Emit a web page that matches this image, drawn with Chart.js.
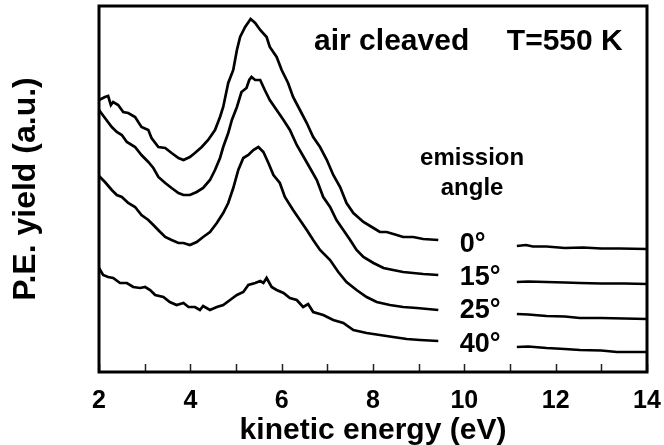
<!DOCTYPE html>
<html>
<head>
<meta charset="utf-8">
<script src="https://cdn.jsdelivr.net/npm/chart.js@4.4.1/dist/chart.umd.min.js"></script>
<style>
  html, body { margin: 0; padding: 0; background: #fff; }
  #wrap { width: 664px; height: 445px; }
</style>
</head>
<body>
<div id="wrap"><canvas id="c" width="664" height="445"></canvas></div>
<script>
// Photoemission yield spectra, air cleaved sample at T = 550 K.
// Each curve: kinetic energy (eV) and yield (arbitrary units, offset per angle).
// null marks the break where the angle labels sit.
const angleLabels = ['0°', '15°', '25°', '40°'];

const energy0 = [2.00,2.13,2.20,2.26,2.31,2.42,2.53,2.64,2.79,2.93,3.08,3.15,3.30,3.45,3.59,3.74,3.85,3.99,4.10,4.25,4.39,4.54,4.65,4.72,4.83,4.94,5.02,5.09,5.20,5.32,5.42,5.53,5.67,5.74,5.89,6.00,6.14,6.25,6.40,6.55,6.69,6.84,6.99,7.13,7.28,7.42,7.57,7.79,8.01,8.15,8.30,8.52,8.66,8.88,9.10,9.43,10.30,11.15,11.35,11.50,11.80,12.20,12.60,13.00,13.40,14.00];
const yield0  = [272,275,276,267,270,267,260,259,255,245,242,234,225,224,219,214,212,215,219,225,232,242,255,265,289,302,322,335,345,353,349,342,335,325,315,302,289,275,262,249,235,225,212,197,185,169,159,150,144,140,140,137,135,135,133,132,null,126,127,125.5,125.5,124,124.5,123.5,123.5,123];

const energy15 = [2.00,2.13,2.28,2.39,2.50,2.61,2.79,2.93,3.08,3.19,3.30,3.45,3.59,3.74,3.85,3.99,4.14,4.28,4.43,4.54,4.65,4.72,4.83,4.91,5.02,5.12,5.23,5.29,5.34,5.42,5.53,5.63,5.74,5.89,6.04,6.18,6.33,6.47,6.62,6.77,6.91,7.06,7.20,7.35,7.50,7.64,7.79,8.01,8.23,8.44,8.66,8.88,9.10,9.43,10.30,11.15,11.40,11.80,12.20,12.53,13.00,13.50,14.00];
const yield15  = [262,254,245,240,237,230,225,217,210,204,195,189,184,179,177,177,180,184,192,202,214,225,239,252,265,280,284,292,295,292,292,282,272,262,252,242,227,216,204,192,175,165,152,142,132,122,115,109,104,102,100,99,98,97,null,90,90.5,90,89.5,89,88.5,88.5,88];

const energy25 = [2.00,2.13,2.28,2.39,2.50,2.64,2.79,2.93,3.08,3.19,3.34,3.45,3.59,3.74,3.85,3.99,4.14,4.28,4.43,4.58,4.72,4.83,4.94,5.05,5.16,5.27,5.38,5.49,5.60,5.71,5.82,5.96,6.07,6.25,6.40,6.55,6.69,6.84,7.06,7.24,7.42,7.64,7.86,8.08,8.37,8.66,8.96,9.43,10.30,11.15,11.40,11.80,12.20,12.53,13.00,13.50,14.00];
const yield25  = [196,190,182,177,175,169,165,157,152,147,140,135,132,129,129,127,130,135,140,149,159,169,184,202,214,217,222,225,220,209,197,189,175,162,152,142,132,122,112,100,90,82,75,70,67,65,64,62,null,58,57.5,56,55.5,54,54,53.5,53];

const energy40 = [2.00,2.09,2.20,2.31,2.46,2.61,2.75,2.90,3.01,3.12,3.23,3.41,3.55,3.70,3.85,3.96,4.10,4.21,4.28,4.43,4.58,4.72,4.87,5.02,5.16,5.27,5.42,5.53,5.60,5.67,5.78,5.89,6.04,6.18,6.33,6.47,6.58,6.69,6.91,7.13,7.35,7.57,7.86,8.15,8.44,8.74,9.03,9.43,10.30,11.15,11.40,11.80,12.20,12.53,13.00,13.34,14.00];
const yield40  = [104,97,95,94,89,89,85,84,85,82,77,75,70,67,69,65,65,62,66,62,65,67,72,77,80,87,89,91,89,94,85,82,79,74,72,65,68,60,57,52,49,42,39,37,35,33,32,31,null,25,25.5,24,23,22,21.5,20,20];

const xMin = 2, xMax = 14, xStep = 1, xLabelStep = 2;

const FONT = '"Liberation Sans", Arial, Helvetica, sans-serif';

function toPoints(xs, ys) {
  return xs.map((x, i) => ({ x: x, y: ys[i] }));
}

const seriesX = [energy0, energy15, energy25, energy40];
const seriesY = [yield0, yield15, yield25, yield40];

const datasets = angleLabels.map((label, i) => ({
  label: label,
  data: toPoints(seriesX[i], seriesY[i]),
  borderColor: '#000',
  borderWidth: 2.7,
  pointRadius: 0,
  tension: 0,
  spanGaps: false,
  fill: false
}));

// Frame, inward tick marks and the in-plot annotations.
const decorations = {
  id: 'decorations',
  beforeDraw(chart) {
    const ctx = chart.ctx;
    ctx.save();
    ctx.fillStyle = '#fff';
    ctx.fillRect(0, 0, chart.width, chart.height);
    ctx.restore();
  },
  afterDraw(chart) {
    const ctx = chart.ctx;
    const a = chart.chartArea;
    const xs = chart.scales.x;
    const ys = chart.scales.y;

    ctx.save();
    // inward ticks on the bottom axis
    ctx.strokeStyle = '#222';
    ctx.lineWidth = 1.5;
    xs.ticks.forEach(t => {
      const px = Math.round(xs.getPixelForValue(t.value)) + 0.5;
      ctx.beginPath();
      ctx.moveTo(px, a.bottom);
      ctx.lineTo(px, a.bottom - 8);
      ctx.stroke();
    });

    // frame
    ctx.strokeStyle = '#000';
    ctx.lineWidth = 3;
    ctx.strokeRect(a.left, a.top, a.right - a.left, a.bottom - a.top);

    // annotations
    ctx.fillStyle = '#000';
    ctx.textBaseline = 'alphabetic';
    ctx.font = 'bold 30px ' + FONT;
    ctx.textAlign = 'left';
    ctx.fillText('air cleaved', xs.getPixelForValue(6.71), ys.getPixelForValue(322));
    ctx.fillText('T=550 K', xs.getPixelForValue(10.93), ys.getPixelForValue(322));

    ctx.font = 'bold 24px ' + FONT;
    ctx.textAlign = 'center';
    ctx.fillText('emission', xs.getPixelForValue(10.17), ys.getPixelForValue(207));
    ctx.fillText('angle', xs.getPixelForValue(10.17), ys.getPixelForValue(177));

    ctx.font = 'bold 27px ' + FONT;
    ctx.textAlign = 'left';
    const labelBase = [120, 87, 54, 20.5];
    angleLabels.forEach((lab, i) => {
      ctx.fillText(lab, xs.getPixelForValue(9.9), ys.getPixelForValue(labelBase[i]));
    });
    ctx.restore();
  }
};

new Chart(document.getElementById('c'), {
  type: 'line',
  data: { datasets: datasets },
  options: {
    responsive: false,
    animation: false,
    devicePixelRatio: 1,
    layout: { padding: { left: 0, right: 17, top: 6, bottom: 0 } },
    plugins: {
      legend: { display: false },
      tooltip: { enabled: false },
      title: { display: false }
    },
    scales: {
      x: {
        type: 'linear',
        min: xMin,
        max: xMax,
        grid: { display: false, drawTicks: false },
        border: { display: false },
        ticks: {
          stepSize: xStep,
          autoSkip: false,
          maxRotation: 0,
          padding: 14,
          color: '#000',
          font: { family: FONT, size: 25, weight: 'bold' },
          callback: v => (v % xLabelStep === 0 ? String(v) : '')
        },
        title: {
          display: true,
          text: 'kinetic energy (eV)',
          color: '#000',
          font: { family: FONT, size: 30, weight: 'bold' },
          padding: { top: 0, bottom: -4 }
        },
        afterFit: s => {
          s.height = 73;
          s.paddingLeft = 0;
          s.paddingRight = 0;
        }
      },
      y: {
        type: 'linear',
        min: 0,
        max: 366,
        grid: { display: false, drawTicks: false },
        border: { display: false },
        ticks: { display: false },
        title: {
          display: true,
          text: 'P.E. yield (a.u.)',
          color: '#000',
          font: { family: FONT, size: 32, weight: 'bold' },
          padding: { top: 7, bottom: 0 }
        },
        afterFit: s => { s.width = 99; }
      }
    }
  },
  plugins: [decorations]
});
</script>
</body>
</html>
